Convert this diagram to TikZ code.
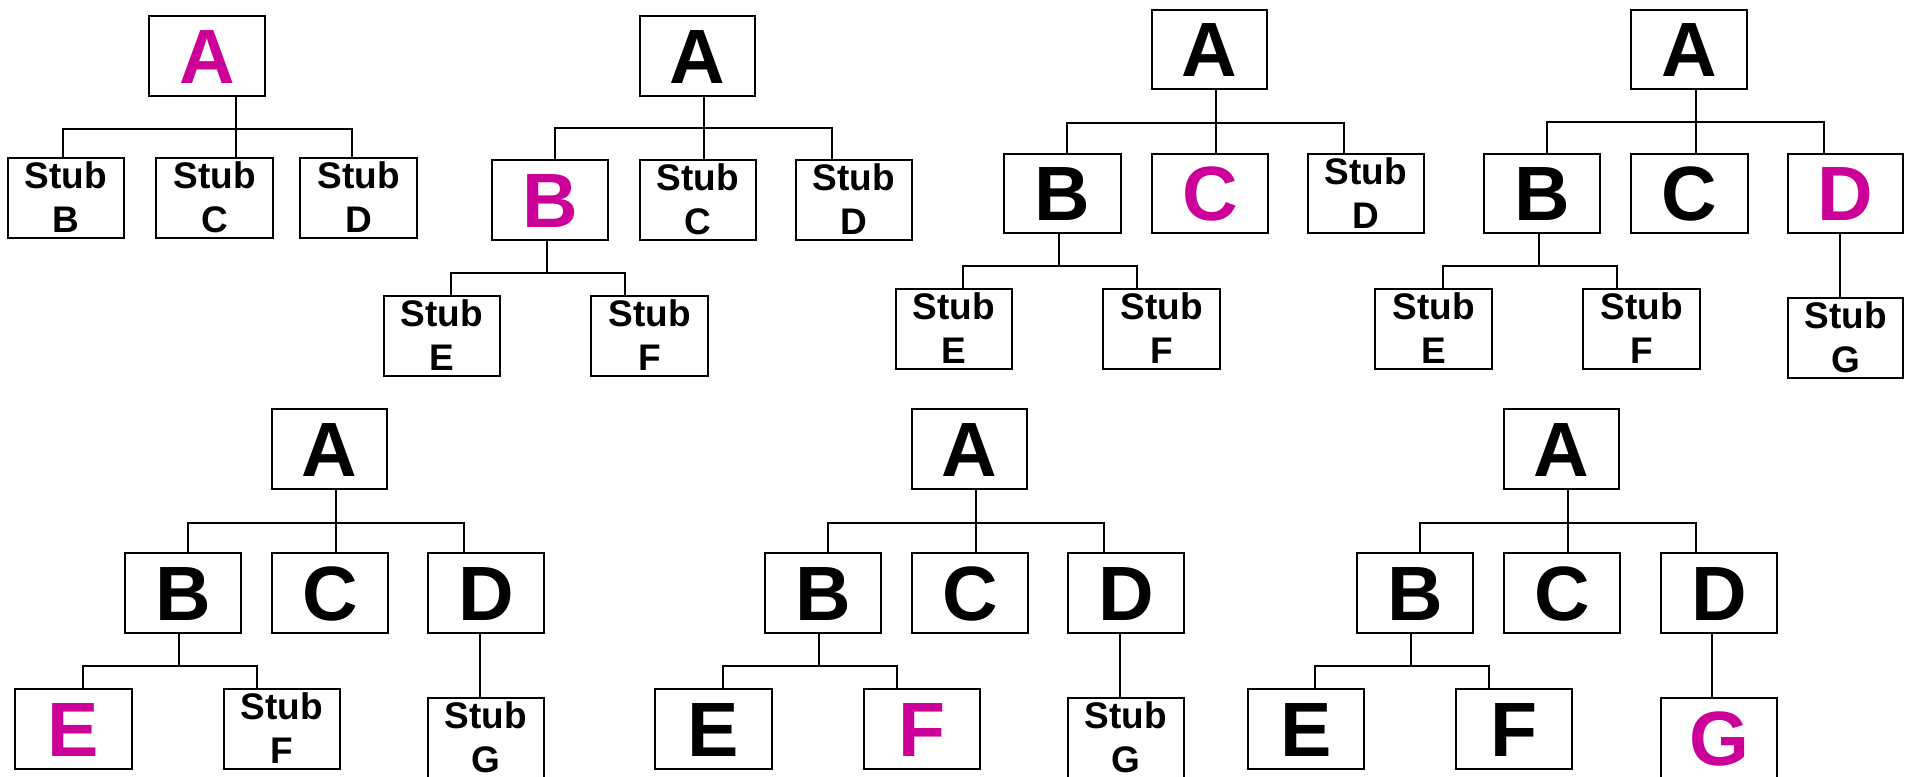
\documentclass[tikz,border=0pt]{standalone}
\usepackage{fontspec}
\setmainfont{Liberation Sans}
\definecolor{hilite}{RGB}{204,0,153}
\tikzset{
  box/.style={draw=black, line width=2.4pt, inner sep=0pt, fill=white},
  wire/.style={draw=black, line width=2.4pt},
  bigtxt/.style={anchor=base, inner sep=0pt, font=\fontsize{77}{77}\selectfont\bfseries},
  stubtxt/.style={anchor=base, inner sep=0pt, font=\fontsize{37}{37}\selectfont\bfseries},
}
% box node from its corners: name, x1, y1, x2, y2
\newcommand\mkbox[5]{%
  \pgfmathsetmacro\bw{#4-#2}\pgfmathsetmacro\bh{#5-#3}%
  \node[box, minimum width=\bw pt, minimum height=\bh pt] (#1) at ({(#2+#4)/2},{(#3+#5)/2}) {};}
% box with one large letter: name, x1, y1, x2, y2, colour, letter
\newcommand\letterbox[7]{%
  \mkbox{#1}{#2}{#3}{#4}{#5}%
  \node[bigtxt, text=#6] (#1-t) at ([yshift=-27pt]#1.center) {#7};}
% stub box: name, x1, y1, x2, y2, letter
\newcommand\stubbox[6]{%
  \mkbox{#1}{#2}{#3}{#4}{#5}%
  \node[stubtxt] (#1-s) at ([yshift=-32pt]#1.north) {Stub};
  \node[stubtxt] (#1-l) at ([yshift=-76pt]#1.north) {#6};}
\begin{document}
\begin{tikzpicture}[x=1pt, y=-1pt]
\useasboundingbox (0,0) rectangle (1905,776);

% ---------- tree 1 ----------
\coordinate (b1l) at (63,129); \coordinate (b1m) at (236,129); \coordinate (b1r) at (352,129);
\letterbox{a1}{149}{16}{265}{96}{hilite}{A}
\stubbox{s1b}{8}{158}{124}{238}{B}
\stubbox{s1c}{156}{158}{273}{238}{C}
\stubbox{s1d}{300}{158}{417}{238}{D}
\draw[wire] (a1.south -| b1m) -- (s1c.north -| b1m);
\draw[wire] (s1b.north -| b1l) -- (b1l) -- (b1r) -- (s1d.north -| b1r);

% ---------- tree 2 ----------
\coordinate (b2l) at (555,128); \coordinate (b2m) at (704,128); \coordinate (b2r) at (832,128);
\coordinate (c2l) at (451,273); \coordinate (c2m) at (547,273); \coordinate (c2r) at (625,273);
\letterbox{a2}{640}{16}{755}{96}{black}{A}
\letterbox{b2}{492}{160}{608}{240}{hilite}{B}
\stubbox{s2c}{640}{160}{756}{240}{C}
\stubbox{s2d}{796}{160}{912}{240}{D}
\stubbox{s2e}{384}{296}{500}{376}{E}
\stubbox{s2f}{591}{296}{708}{376}{F}
\draw[wire] (a2.south -| b2m) -- (s2c.north -| b2m);
\draw[wire] (b2.north -| b2l) -- (b2l) -- (b2r) -- (s2d.north -| b2r);
\draw[wire] (b2.south -| c2m) -- (c2m);
\draw[wire] (s2e.north -| c2l) -- (c2l) -- (c2r) -- (s2f.north -| c2r);

% ---------- tree 3 ----------
\coordinate (b3l) at (1067,123); \coordinate (b3m) at (1216,123); \coordinate (b3r) at (1344,123);
\coordinate (c3l) at (963,266); \coordinate (c3m) at (1059,266); \coordinate (c3r) at (1137,266);
\letterbox{a3}{1152}{10}{1267}{89}{black}{A}
\letterbox{b3}{1004}{154}{1121}{233}{black}{B}
\letterbox{c3}{1152}{154}{1268}{233}{hilite}{C}
\stubbox{s3d}{1308}{154}{1424}{233}{D}
\stubbox{s3e}{896}{289}{1012}{369}{E}
\stubbox{s3f}{1103}{289}{1220}{369}{F}
\draw[wire] (a3.south -| b3m) -- (c3.north -| b3m);
\draw[wire] (b3.north -| b3l) -- (b3l) -- (b3r) -- (s3d.north -| b3r);
\draw[wire] (b3.south -| c3m) -- (c3m);
\draw[wire] (s3e.north -| c3l) -- (c3l) -- (c3r) -- (s3f.north -| c3r);

% ---------- tree 4 ----------
\coordinate (b4l) at (1547,122); \coordinate (b4m) at (1696,122); \coordinate (b4r) at (1824,122);
\coordinate (c4l) at (1443,266); \coordinate (c4m) at (1539,266); \coordinate (c4r) at (1617,266);
\coordinate (d4) at (1840,0);
\letterbox{a4}{1631}{10}{1747}{89}{black}{A}
\letterbox{b4}{1484}{154}{1600}{233}{black}{B}
\letterbox{c4}{1631}{154}{1748}{233}{black}{C}
\letterbox{d4b}{1788}{154}{1903}{233}{hilite}{D}
\stubbox{s4e}{1375}{289}{1492}{369}{E}
\stubbox{s4f}{1583}{289}{1700}{369}{F}
\stubbox{s4g}{1788}{298}{1903}{378}{G}
\draw[wire] (a4.south -| b4m) -- (c4.north -| b4m);
\draw[wire] (b4.north -| b4l) -- (b4l) -- (b4r) -- (d4b.north -| b4r);
\draw[wire] (b4.south -| c4m) -- (c4m);
\draw[wire] (s4e.north -| c4l) -- (c4l) -- (c4r) -- (s4f.north -| c4r);
\draw[wire] (d4b.south -| d4) -- (s4g.north -| d4);

% ---------- tree 5 ----------
\coordinate (b5l) at (188,523); \coordinate (b5m) at (336,523); \coordinate (b5r) at (464,523);
\coordinate (c5l) at (83,666); \coordinate (c5m) at (179,666); \coordinate (c5r) at (257,666);
\coordinate (d5) at (480,0);
\letterbox{a5}{272}{409}{387}{489}{black}{A}
\letterbox{b5}{125}{553}{241}{633}{black}{B}
\letterbox{c5}{272}{553}{388}{633}{black}{C}
\letterbox{d5b}{428}{553}{544}{633}{black}{D}
\letterbox{e5}{15}{689}{132}{769}{hilite}{E}
\stubbox{s5f}{224}{689}{340}{769}{F}
\stubbox{s5g}{428}{698}{544}{779}{G}
\draw[wire] (a5.south -| b5m) -- (c5.north -| b5m);
\draw[wire] (b5.north -| b5l) -- (b5l) -- (b5r) -- (d5b.north -| b5r);
\draw[wire] (b5.south -| c5m) -- (c5m);
\draw[wire] (e5.north -| c5l) -- (c5l) -- (c5r) -- (s5f.north -| c5r);
\draw[wire] (d5b.south -| d5) -- (s5g.north -| d5);

% ---------- tree 6 ----------
\coordinate (b6l) at (828,523); \coordinate (b6m) at (976,523); \coordinate (b6r) at (1104,523);
\coordinate (c6l) at (723,666); \coordinate (c6m) at (819,666); \coordinate (c6r) at (897,666);
\coordinate (d6) at (1120,0);
\letterbox{a6}{912}{409}{1027}{489}{black}{A}
\letterbox{b6}{765}{553}{881}{633}{black}{B}
\letterbox{c6}{912}{553}{1028}{633}{black}{C}
\letterbox{d6b}{1068}{553}{1184}{633}{black}{D}
\letterbox{e6}{655}{689}{772}{769}{black}{E}
\letterbox{f6}{864}{689}{980}{769}{hilite}{F}
\stubbox{s6g}{1068}{698}{1184}{779}{G}
\draw[wire] (a6.south -| b6m) -- (c6.north -| b6m);
\draw[wire] (b6.north -| b6l) -- (b6l) -- (b6r) -- (d6b.north -| b6r);
\draw[wire] (b6.south -| c6m) -- (c6m);
\draw[wire] (e6.north -| c6l) -- (c6l) -- (c6r) -- (f6.north -| c6r);
\draw[wire] (d6b.south -| d6) -- (s6g.north -| d6);

% ---------- tree 7 ----------
\coordinate (b7l) at (1420,523); \coordinate (b7m) at (1568,523); \coordinate (b7r) at (1696,523);
\coordinate (c7l) at (1315,666); \coordinate (c7m) at (1411,666); \coordinate (c7r) at (1489,666);
\coordinate (d7) at (1712,0);
\letterbox{a7}{1504}{409}{1619}{489}{black}{A}
\letterbox{b7}{1357}{553}{1473}{633}{black}{B}
\letterbox{c7}{1504}{553}{1620}{633}{black}{C}
\letterbox{d7b}{1661}{553}{1777}{633}{black}{D}
\letterbox{e7}{1248}{689}{1364}{769}{black}{E}
\letterbox{f7}{1456}{689}{1572}{769}{black}{F}
\letterbox{g7}{1661}{698}{1777}{779}{hilite}{G}
\draw[wire] (a7.south -| b7m) -- (c7.north -| b7m);
\draw[wire] (b7.north -| b7l) -- (b7l) -- (b7r) -- (d7b.north -| b7r);
\draw[wire] (b7.south -| c7m) -- (c7m);
\draw[wire] (e7.north -| c7l) -- (c7l) -- (c7r) -- (f7.north -| c7r);
\draw[wire] (d7b.south -| d7) -- (g7.north -| d7);
\end{tikzpicture}
\end{document}
